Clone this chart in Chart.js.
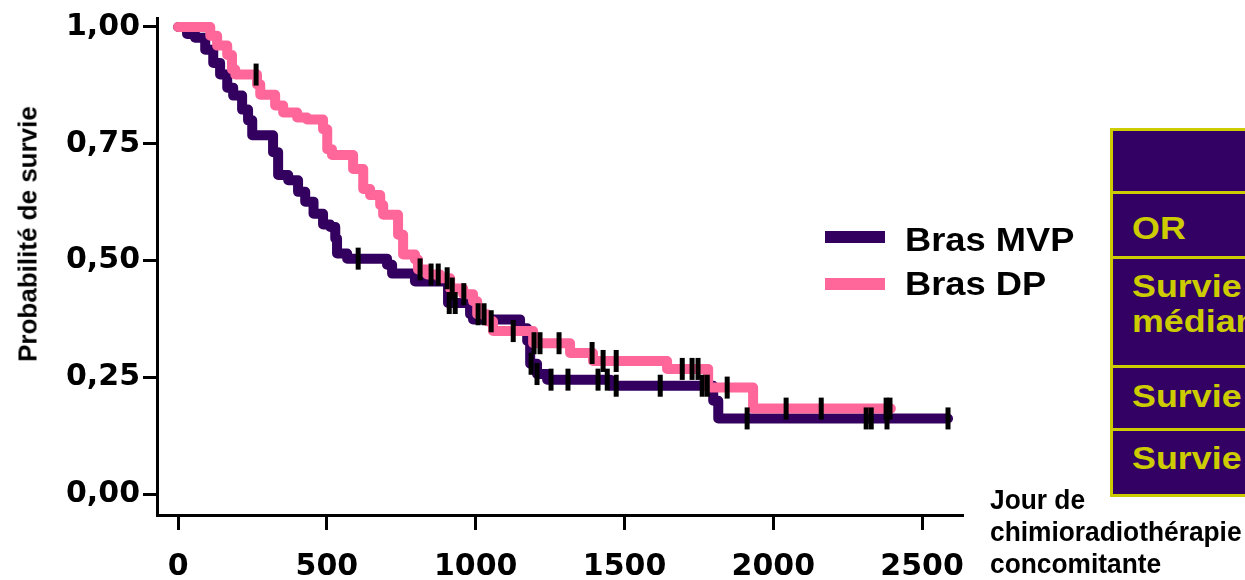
<!DOCTYPE html>
<html lang="fr">
<head>
<meta charset="utf-8">
<script src="https://cdn.jsdelivr.net/npm/chart.js@4/dist/chart.umd.min.js"></script>
<style>
  html, body { margin: 0; padding: 0; background: #fff; width: 1245px; height: 580px; overflow: hidden; }
  #wrap { position: relative; width: 1245px; height: 580px; overflow: hidden; }
  #chart { position: absolute; left: 0; top: 0; }
  .txt { position: absolute; white-space: nowrap; font-family: "Liberation Sans", Arial, sans-serif; font-weight: bold; }
  #ytitle { left: 28px; top: 234px; font-size: 26px; transform: translate(-50%, -50%) rotate(-90deg); }
  #xtitle { left: 990px; top: 484px; font-size: 28px; line-height: 32px; transform: scaleX(0.94); transform-origin: left top; }
  .swatch { position: absolute; left: 825px; width: 60px; height: 12px; }
  .leg { font-size: 33px; line-height: 33px; transform: scaleX(1.1); transform-origin: left top; }
  #tbl { position: absolute; left: 1110px; top: 128px; width: 200px; height: 369px; box-sizing: border-box;
         background: #330063; border: 3px solid #cccc00; }
  .hline { position: absolute; left: 1110px; width: 200px; height: 3px; background: #cccc00; }
  .cell { color: #cccc00; font-size: 32px; line-height: 32px; transform: scaleX(1.12); transform-origin: left top; left: 1132px; }
</style>
</head>
<body>
<div id="wrap">
  <canvas id="chart" width="1245" height="580"></canvas>
  <div id="ytitle" class="txt">Probabilité de survie</div>
  <div id="xtitle" class="txt">Jour de<br>chimioradiothérapie<br>concomitante</div>
  <div id="legend"></div>
  <div id="tbl"></div>
  <div class="hline" style="top:191px"></div>
  <div class="hline" style="top:256px"></div>
  <div class="hline" style="top:365px"></div>
  <div class="hline" style="top:428px"></div>
  <div class="txt cell" style="top:212px">OR</div>
  <div class="txt cell" style="top:270px">Survie</div>
  <div class="txt cell" style="top:305px">médiane</div>
  <div class="txt cell" style="top:380px">Survie</div>
  <div class="txt cell" style="top:442px">Survie</div>
</div>
<script>
const xTicks = [0, 500, 1000, 1500, 2000, 2500];
const xTickLabels = ['0', '500', '1000', '1500', '2000', '2500'];
const yTicks = [0, 0.25, 0.5, 0.75, 1];
const yTickLabels = ['0,00', '0,25', '0,50', '0,75', '1,00'];
const seriesNames = ['Bras MVP', 'Bras DP'];

// Kaplan-Meier steps: day of each drop and survival after it
const mvpDays = [0, 30, 57, 91, 118, 141, 165, 185, 215, 235, 249, 319, 336, 370, 403, 427, 455, 487, 511, 528,
  534, 568, 702, 719, 796, 907, 981, 991, 1149, 1173, 1183, 1206, 1240, 1452, 1798, 1815, 2587];
const mvpSurv = [1.0, 0.985, 0.977, 0.951, 0.923, 0.898, 0.870, 0.853, 0.823, 0.800, 0.768, 0.732, 0.683, 0.672, 0.647, 0.626, 0.600, 0.577, 0.572, 0.547,
  0.515, 0.504, 0.491, 0.472, 0.455, 0.409, 0.385, 0.374, 0.355, 0.328, 0.279, 0.257, 0.245, 0.232, 0.200, 0.162, 0.162];
const mvpCensor = [605, 911, 931, 1186, 1206, 1253, 1310, 1411, 1442, 1472, 1620, 1761, 1778, 1912, 2312, 2329, 2382, 2587];

const dpDays = [0, 108, 131, 165, 181, 192, 265, 276, 326, 353, 400, 433, 487, 501, 517, 588, 622, 645, 679, 689,
  739, 756, 796, 806, 837, 880, 914, 958, 991, 1005, 1038, 1058, 1193, 1317, 1394, 1643, 1781, 1932, 2395];
const dpSurv = [1.0, 0.981, 0.960, 0.940, 0.909, 0.898, 0.877, 0.855, 0.832, 0.817, 0.806, 0.802, 0.781, 0.738, 0.726, 0.696, 0.653, 0.640, 0.619, 0.598,
  0.555, 0.513, 0.502, 0.481, 0.470, 0.462, 0.440, 0.428, 0.413, 0.385, 0.370, 0.349, 0.323, 0.302, 0.285, 0.268, 0.228, 0.183, 0.183];
const dpCensor = [262, 813, 850, 874, 904, 921, 960, 1008, 1028, 1052, 1126, 1196, 1216, 1280, 1391, 1428, 1472,
  1694, 1727, 1747, 1845, 2043, 2161, 2379, 2392];

const colors = ['#33005f', '#ff6699'];

function survAt(days, surv, t) {
  let s = surv[0];
  for (let i = 0; i < days.length; i++) if (days[i] <= t) s = surv[i];
  return s;
}
function steps(days, surv) { return days.map((d, i) => ({ x: d, y: surv[i] })); }
function marks(days, surv, cens) { return cens.map(t => ({ x: t, y: survAt(days, surv, t) })); }

function lineSet(i, days, surv, order) {
  return {
    label: seriesNames[i], data: steps(days, surv), stepped: 'before',
    borderColor: colors[i], borderWidth: 10, borderJoinStyle: 'round', borderCapStyle: 'round',
    pointRadius: 0, fill: false, order: order
  };
}
function censorSet(data) {
  return {
    label: 'censure', data: data, showLine: false, pointStyle: 'line', rotation: 90,
    pointRadius: 11, pointBorderWidth: 5, pointBorderColor: '#000', pointBackgroundColor: '#000', order: 0
  };
}

const tickFont = { family: 'DejaVu Sans', weight: 'bold', size: 30, lineHeight: 1 };

const chart = new Chart(document.getElementById('chart'), {
  type: 'line',
  data: {
    datasets: [
      lineSet(0, mvpDays, mvpSurv, 2),
      lineSet(1, dpDays, dpSurv, 1),
      censorSet(marks(mvpDays, mvpSurv, mvpCensor)),
      censorSet(marks(dpDays, dpSurv, dpCensor))
    ]
  },
  options: {
    responsive: false,
    animation: false,
    events: [],
    layout: { padding: { left: 0, top: 15, right: 283, bottom: 0 } },
    plugins: { legend: { display: false }, tooltip: { enabled: false } },
    scales: {
      x: {
        type: 'linear', min: -71, max: 2634,
        afterBuildTicks: s => { s.ticks = xTicks.map(v => ({ value: v })); },
        afterFit: s => { s.height = 65; },
        border: { color: '#000', width: 3 },
        grid: { drawOnChartArea: false, color: '#000', lineWidth: 3, tickLength: 15 },
        ticks: { color: '#000', font: tickFont, padding: 22, autoSkip: false, maxRotation: 0,
          callback: v => xTickLabels[xTicks.indexOf(v)] }
      },
      y: {
        type: 'linear', min: -0.0447, max: 1.0191,
        afterBuildTicks: s => { s.ticks = yTicks.map(v => ({ value: v })); },
        afterFit: s => { s.width = 157; },
        border: { color: '#000', width: 3 },
        grid: { drawOnChartArea: false, color: '#000', lineWidth: 3, tickLength: 14 },
        ticks: { color: '#000', font: tickFont, padding: 3, autoSkip: false,
          callback: v => yTickLabels[yTicks.indexOf(v)] }
      }
    }
  }
});

// legend drawn beside the curves, from the line datasets
const legend = document.getElementById('legend');
chart.data.datasets.slice(0, 2).forEach((ds, i) => {
  const sw = document.createElement('div');
  sw.className = 'swatch';
  sw.style.top = (231 + i * 47) + 'px';
  sw.style.background = ds.borderColor;
  legend.appendChild(sw);
  const t = document.createElement('div');
  t.className = 'txt leg';
  t.style.left = '905px';
  t.style.top = (223 + i * 44) + 'px';
  t.textContent = ds.label;
  legend.appendChild(t);
});
</script>
</body>
</html>
